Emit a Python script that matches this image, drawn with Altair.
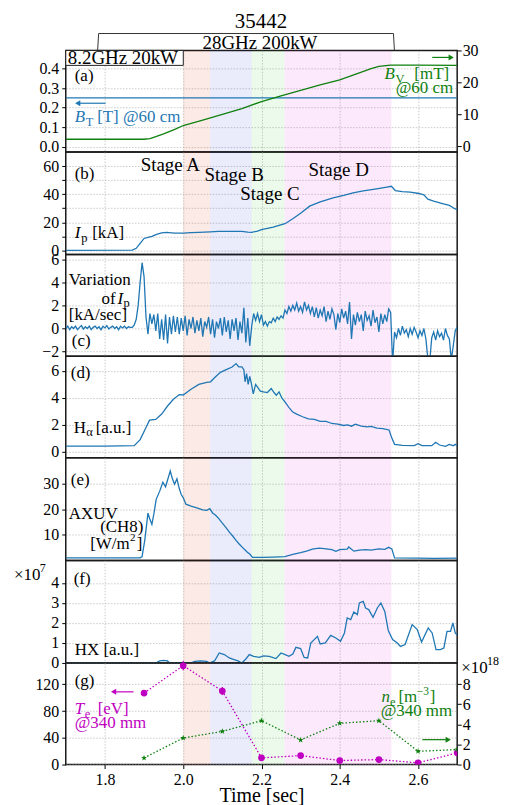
import altair as alt
import pandas as pd

SERIF = "Liberation Serif"
BLUE = "#1f77b4"
GREEN = "#0f800f"
MAG = "#c000c0"
W = 393
HEIGHTS = [102, 103, 102, 102, 103, 103, 102]
X_TICKS = [1.8, 2.0, 2.2, 2.4, 2.6]

# ---- stages ----
stage_name = ["A", "B", "C", "D"]
stage_start = [2.0, 2.069, 2.175, 2.259]
stage_end = [2.069, 2.175, 2.259, 2.532]
stage_color = ["#e12d05", "#2d41e1", "#41cd41", "#e12de1"]

# ---- (a) ----
bt_t = [1.7, 2.7]
bt_v = [0.25, 0.25]
bv_t = [1.70, 1.80, 1.90, 1.915, 1.93, 1.95, 1.98, 2.00, 2.05, 2.10, 2.15, 2.20, 2.25, 2.30,
        2.35, 2.40, 2.45, 2.48, 2.50, 2.53, 2.60, 2.70]
bv_v = [2.2, 2.2, 2.2, 2.4, 3.0, 3.9, 5.4, 6.5, 8.2, 10.0, 11.8, 14.0, 15.8, 17.5,
        19.2, 20.8, 23.0, 24.3, 25.0, 25.4, 25.4, 25.3]

# ---- (b) Ip ----
ip_t = [1.70, 1.87, 1.88, 1.89, 1.90, 1.91, 1.92, 1.932, 1.945, 1.958, 1.97, 1.98, 2.0,
        2.02, 2.04, 2.069, 2.09, 2.12, 2.15, 2.165, 2.175, 2.19, 2.2, 2.23, 2.26, 2.28,
        2.30, 2.323, 2.35, 2.383, 2.41, 2.434, 2.46, 2.494, 2.52, 2.532, 2.542, 2.56,
        2.58, 2.602, 2.615, 2.625, 2.64, 2.66, 2.68, 2.695, 2.70]
ip_v = [0, 0.2, 1.5, 5, 8.5, 9.2, 10, 11.4, 12.5, 12.8, 12.5, 12.3, 12.3,
        12.6, 12.9, 13.2, 13.5, 13.6, 13.5, 13.0, 12.8, 13.8, 14.8, 16.5, 19.0, 22.5,
        26.5, 31.5, 34.5, 37.4, 39.2, 41.0, 42.3, 43.8, 45.0, 45.6, 42.6, 41.8,
        41.5, 40.5, 39.5, 36.5, 35.0, 33.5, 32.0, 29.5, 29.0]

# ---- (c) dIp/dt, sampled every 5 ms from 1.700 s ----
dip_v = ([0.0, 0.2, -0.1, 0.15, 0.0, 0.2, -0.1, 0.1, 0.25, -0.05, 0.15, 0.0, 0.2, -0.1, 0.1,
          0.2, 0.0, 0.15, -0.1, 0.2, 0.05, 0.25, -0.05, 0.1, 0.2, 0.0, 0.15, -0.1, 0.2, 0.05,
          0.2, 0.0, 0.15, 0.1]
         + [0.1, 0.3, 0.8, 2.0, 4.0, 5.7, 4.5, 1.0, -0.5]
         + [1.3, 0.4, 1.2, -0.2, 1.3, -0.9, 0.8, -1.0, 1.2, -1.3, 1.0, -0.5, 1.1, -0.3, 1.0,
            -0.5, 0.9, -0.2, 1.1, -0.6, 0.8, 0.0, 1.0, -0.4, 0.7, -0.2, 0.9, -0.7, 0.6, 0.1,
            1.0, -0.5, 0.8, -0.8, 0.6, 0.0, 0.9, -0.6, 1.0, -0.3, 0.7, -0.9, 0.8, -0.2, 0.9,
            -1.0, 0.6, -0.4, 1.8, -1.2, 0.9, -1.5]
         + [0.2, 1.3, 0.7, 1.3, 0.6, 1.2, 0.3, 0.6, 0.2, 0.6, 0.5, 0.9, 0.6, 1.0, 0.8, 1.1, 0.9]
         + [1.6, 1.3, 1.9, 1.5, 2.0, 1.6, 2.2, 1.5, 1.9, 1.4, 2.3, 1.6, 2.0, 1.3, 1.9]
         + [1.0, 1.8, 0.9, 1.6, 1.1, 1.9, 0.6, 1.5, 0.8, 1.7, 1.2, -0.1, 1.3, 0.5, 1.7,
            0.9, 1.5, 0.4, 2.3, -0.9, 1.2, 0.3, 1.4, 0.6, 1.2, -0.2, 1.5, 0.7, 1.1, 0.2,
            1.6, 0.5, 1.0, -0.3, 1.3, 0.4, 1.2, 0.6, 1.7, 1.4]
         + [-3.0]
         + [-0.3, -0.8, 0.0, -0.6, 0.2, -0.4, -0.1, -0.7, 0.0, -0.5, 0.1, -0.3, -0.8, -0.2,
            -0.6, 0.0, -0.9, -2.6, -2.8, -0.8, -0.3, -1.0, -0.2, -0.7, -0.4, -1.0, 0.0, -0.6,
            -0.9, -2.7, -1.5, -0.2, 0.1])
dip_t = [round(1.7 + 0.005 * i, 3) for i in range(len(dip_v))]

# ---- (d) H-alpha ----
ha_t = [1.70, 1.80, 1.875, 1.89, 1.905, 1.914, 1.93, 1.945, 1.96, 1.975, 1.99, 2.00, 2.02,
        2.04, 2.06, 2.07, 2.08, 2.095, 2.11, 2.125, 2.135, 2.142, 2.15, 2.155, 2.158, 2.162,
        2.166, 2.17, 2.174, 2.179, 2.185, 2.19, 2.197, 2.205, 2.215, 2.225, 2.232, 2.238,
        2.245, 2.252, 2.26, 2.27, 2.28, 2.29, 2.305, 2.32, 2.335, 2.35, 2.365, 2.38, 2.395,
        2.41, 2.42, 2.43, 2.44, 2.455, 2.47, 2.48, 2.495, 2.51, 2.526, 2.532, 2.54, 2.56,
        2.59, 2.60, 2.61, 2.635, 2.645, 2.655, 2.67, 2.68, 2.69, 2.695, 2.70]
ha_v = [0.42, 0.42, 0.45, 0.9, 1.8, 2.35, 2.4, 2.8, 3.4, 3.9, 4.25, 4.22, 4.65,
        5.0, 5.15, 5.2, 5.5, 5.9, 6.1, 6.3, 6.55, 6.3, 6.3, 6.1, 5.2, 5.8,
        5.0, 5.6, 5.1, 4.3, 5.0, 4.8, 4.5, 4.45, 4.4, 4.7, 4.4, 4.2,
        4.45, 4.0, 3.7, 3.3, 2.95, 2.8, 2.6, 2.45, 2.4, 2.25, 2.25, 2.1, 2.05,
        1.95, 2.0, 1.9, 2.05, 1.9, 1.85, 1.88, 1.75, 1.72, 1.62, 1.1, 0.55, 0.48,
        0.45, 0.6, 0.45, 0.45, 0.7, 0.5, 0.4, 0.55, 0.45, 0.55, 0.45]

# ---- (e) AXUV ----
ax_t = [1.70, 1.89, 1.895, 1.902, 1.91, 1.915, 1.92, 1.925, 1.931, 1.94, 1.948, 1.955,
        1.967, 1.972, 1.978, 1.984, 1.99, 1.995, 2.0, 2.007, 2.02, 2.033, 2.05, 2.06,
        2.068, 2.075, 2.083, 2.092, 2.1, 2.109, 2.118, 2.126, 2.135, 2.143, 2.155, 2.164,
        2.17, 2.177, 2.2, 2.23, 2.26, 2.28, 2.3, 2.315, 2.33, 2.347, 2.36, 2.38, 2.39,
        2.40, 2.419, 2.423, 2.43, 2.436, 2.45, 2.466, 2.48, 2.5, 2.515, 2.525, 2.533,
        2.54, 2.6, 2.64, 2.70]
ax_v = [1.0, 1.0, 1.5, 8.0, 18.4, 16.0, 14.0, 18.0, 23.8, 27.0, 30.5, 28.7,
        34.9, 32.0, 29.7, 31.8, 28.0, 25.7, 24.5, 21.9, 21.2, 20.6, 19.7, 19.5,
        20.2, 18.5, 17.6, 16.1, 14.5, 12.9, 11.0, 9.6, 7.8, 6.4, 4.5, 3.2,
        2.5, 1.2, 1.2, 1.3, 1.5, 2.3, 3.0, 3.6, 4.4, 4.8, 4.6, 4.2, 3.5,
        4.2, 4.4, 5.2, 4.3, 3.6, 4.0, 4.2, 4.0, 4.5, 4.3, 5.1, 4.5,
        1.0, 0.9, 0.8, 0.9]

# ---- (f) HX (x 1e7) ----
hx_t = [1.70, 1.93, 1.94, 1.95, 1.96, 1.965, 2.02, 2.03, 2.045, 2.06, 2.068, 2.08, 2.092,
        2.105, 2.118, 2.13, 2.14, 2.15, 2.16, 2.169, 2.18, 2.194, 2.205, 2.22, 2.237, 2.25,
        2.262, 2.27, 2.28, 2.288, 2.3, 2.309, 2.318, 2.326, 2.343, 2.35, 2.363, 2.377, 2.39,
        2.402, 2.412, 2.419, 2.428, 2.436, 2.445, 2.45, 2.46, 2.466, 2.474, 2.485, 2.496,
        2.505, 2.515, 2.524, 2.535, 2.547, 2.555, 2.567, 2.585, 2.598, 2.609, 2.626, 2.636,
        2.646, 2.657, 2.666, 2.674, 2.683, 2.689, 2.695, 2.70]
hx_v = [0.0, 0.0, 0.1, 0.13, 0.1, 0.0, 0.0, 0.08, 0.1, 0.08, 0.0, 0.1, 0.5,
        0.42, 0.25, 0.17, 0.1, 0.0, 0.2, 0.42, 0.33, 0.28, 0.35, 0.33, 0.22, 0.5,
        0.4, 0.33, 0.45, 0.78, 0.72, 0.28, 0.25, 1.0, 1.33, 0.95, 1.0, 1.38, 1.25,
        1.08, 1.5, 2.25, 2.17, 2.55, 2.42, 3.0, 3.08, 2.75, 2.67, 2.28, 2.75,
        3.0, 2.58, 1.62, 1.17, 1.0, 0.83, 0.92, 1.92, 1.67, 1.05, 1.75, 1.5,
        0.67, 0.67, 0.75, 1.58, 1.58, 2.0, 1.5, 1.4]

# ---- (g) Thomson ----
ts_t = [1.9, 2.0, 2.1, 2.2, 2.3, 2.4, 2.5, 2.6, 2.7]
te_v = [107, 148, 110, 10, 13.4, 6, 7.5, 2.5, 17.5]
te_err = [0, 7, 6, 0, 0, 0, 0, 0, 0]
ne_v = [0.66, 2.64, 3.3, 4.36, 2.45, 4.1, 4.36, 1.32, 1.49]

# ------------------------------------------------------------------
xscale = alt.Scale(domain=[1.7, 2.7], nice=False, zero=False)
one = pd.DataFrame({"k": [0]})
STAR = ("M0,-1L0.235,-0.324L0.951,-0.309L0.38,0.124L0.588,0.809L0,0.4L-0.588,0.809"
        "L-0.38,0.124L-0.951,-0.309L-0.235,-0.324Z")


def xq(field, show=False):
    if show:
        ax = alt.Axis(values=X_TICKS, format=".1f", title="Time [sec]", titleFontSize=20,
                      titlePadding=-2, tickSize=4, labelPadding=3, grid=True)
    else:
        ax = alt.Axis(values=X_TICKS, labels=False, ticks=False, title=None, grid=True)
    return alt.X(f"{field}:Q", scale=xscale, axis=ax)


def yq(field, domain, values, fmt="d", orient="left"):
    return alt.Y(f"{field}:Q", scale=alt.Scale(domain=domain, nice=False, zero=False),
                 axis=alt.Axis(values=values, format=fmt, orient=orient, title=None,
                               tickSize=4, labelPadding=3 if orient == "left" else 1))


def bands(show=False):
    df = pd.DataFrame({"name": stage_name, "start": stage_start, "end": stage_end,
                       "color": stage_color})
    return alt.Chart(df).mark_rect(opacity=0.1).encode(
        x=xq("start", show), x2="end:Q", color=alt.Color("color:N", scale=None))


def series(t, v, domain, values, show=False, color=BLUE, fmt="d", orient="left"):
    df = pd.DataFrame({"t": t, "v": v})
    return alt.Chart(df).mark_line(color=color, strokeWidth=1.3, clip=True).encode(
        x=xq("t", show), y=yq("v", domain, values, fmt, orient))


def txt(s, x, y, size=17, color="black", align="left", style="normal", baseline="middle"):
    return alt.Chart(one).mark_text(text=s, font=SERIF, fontSize=size, color=color,
                                    align=align, baseline=baseline, fontStyle=style).encode(
        x=alt.value(x), y=alt.value(y))


def arrow(x1, x2, y, color):
    sgn = 1 if x2 > x1 else -1
    rule = alt.Chart(one).mark_rule(color=color, strokeWidth=1.2).encode(
        x=alt.value(x1), x2=alt.value(x2 - 4 * sgn), y=alt.value(y))
    tip = alt.Chart(one).mark_point(shape="triangle-right" if sgn > 0 else "triangle-left",
                                    filled=True, color=color, size=36, opacity=1).encode(
        x=alt.value(x2 - 3 * sgn), y=alt.value(y))
    return [rule, tip]


def seg(x1, y1, x2, y2):
    return alt.Chart(one).mark_rule(color="#333", strokeWidth=1).encode(
        x=alt.value(x1), y=alt.value(y1), x2=alt.value(x2), y2=alt.value(y2))


# ---- panel (a) ----
pa = alt.layer(
    bands(),
    series(bt_t, bt_v, [-0.027, 0.493], [0.0, 0.1, 0.2, 0.3, 0.4], fmt=".1f"),
    series(bv_t, bv_v, [-1.8, 30.0], [0, 10, 20, 30], color=GREEN, orient="right"),
    alt.Chart(one).mark_rect(fill="white", stroke="#222", strokeWidth=1).encode(
        x=alt.value(0), x2=alt.value(118), y=alt.value(0), y2=alt.value(15)),
    txt("8.2GHz 20kW", 2, 14, size=19, baseline="alphabetic"),
    txt("35442", 196, -23, size=21, align="center", baseline="alphabetic"),
    seg(33, -17, 329, -17), seg(33, -17, 32, 0), seg(329, -17, 330, 0),
    txt("28GHz 200kW", 195, -1, size=19, align="center", baseline="alphabetic"),
    txt("(a)", 9, 26),
    *arrow(40, 9, 53, BLUE),
    txt("B", 9, 72, color=BLUE, style="italic", baseline="alphabetic"),
    txt("T", 20, 76, size=12.5, color=BLUE, baseline="alphabetic"),
    txt("[T] @60 cm", 31.5, 72, color=BLUE, baseline="alphabetic"),
    *arrow(368, 390, 7, GREEN),
    txt("B", 320, 29, color=GREEN, style="italic", baseline="alphabetic"),
    txt("V", 331, 33, size=12.5, color=GREEN, baseline="alphabetic"),
    txt("[mT]", 350, 29, color=GREEN, baseline="alphabetic"),
    txt("@60 cm", 389, 43, color=GREEN, align="right", baseline="alphabetic"),
).resolve_scale(y="independent").properties(width=W, height=HEIGHTS[0])

# ---- panel (b) ----
pb = alt.layer(
    bands(),
    series(ip_t, ip_v, [-3, 70], [0, 10, 20, 30, 40, 50, 60]),
    txt("(b)", 9, 22),
    txt("Stage A", 105, 13, size=19, align="center"),
    txt("Stage B", 169, 23, size=19, align="center"),
    txt("Stage C", 205, 42, size=19, align="center"),
    txt("Stage D", 274, 18, size=19, align="center"),
    txt("I", 9, 86, style="italic", baseline="alphabetic"),
    txt("p", 15.5, 90, size=12.5, baseline="alphabetic"),
    txt("[kA]", 26.5, 86, baseline="alphabetic"),
).properties(width=W, height=HEIGHTS[1])

# ---- panel (c) ----
pc = alt.layer(
    bands(),
    series(dip_t, dip_v, [-2.4, 6.4], [-2, 0, 2, 4, 6]),
    txt("Variation", 3, 25),
    txt("of", 36, 45),
    txt("I", 52, 45, style="italic"),
    txt("p", 58, 49, size=12.5),
    txt("[kA/sec]", 3, 61),
    txt("(c)", 6, 87),
).properties(width=W, height=HEIGHTS[2])

# ---- panel (d) ----
pd_ = alt.layer(
    bands(),
    series(ha_t, ha_v, [-0.45, 7.1], [0, 2, 4, 6]),
    txt("(d)", 5, 17),
    txt("H", 8, 72),
    txt("α", 20.5, 76, size=12.5),
    txt("[a.u.]", 30, 72),
).properties(width=W, height=HEIGHTS[3])

# ---- panel (e) ----
pe = alt.layer(
    bands(),
    series(ax_t, ax_v, [0, 40], [10, 20, 30]),
    txt("(e)", 5, 22),
    txt("AXUV", 3, 56),
    txt("(CH8)", 78, 70, align="right"),
    txt("[W/m", 24.5, 87),
    txt("2", 64.5, 81, size=11),
    txt("]", 77, 87, align="right"),
).properties(width=W, height=HEIGHTS[4])

# ---- panel (f) ----
pf = alt.layer(
    bands(),
    series(hx_t, hx_v, [0, 5.13], [0, 1, 2, 3, 4]),
    txt("(f)", 8, 19),
    txt("HX [a.u.]", 9, 90),
    txt("×10", -52, 15),
    txt("7", -26, 8, size=12),
).properties(width=W, height=HEIGHTS[5])

# ---- panel (g) ----
ts_df = pd.DataFrame({"t": ts_t, "te": te_v, "err": te_err, "ne": ne_v})
ts_df["lo"] = ts_df["te"] - ts_df["err"]
ts_df["hi"] = ts_df["te"] + ts_df["err"]
te_y = yq("te", [0, 152], [0, 40, 80, 120])
te_group = alt.layer(
    alt.Chart(ts_df).mark_line(color=MAG, strokeWidth=1.3, strokeDash=[1.5, 2], clip=True)
    .encode(x=xq("t", True), y=te_y),
    alt.Chart(ts_df[ts_df["err"] > 0]).mark_rule(color=MAG, strokeWidth=1.3)
    .encode(x=xq("t", True), y=alt.Y("lo:Q", scale=alt.Scale(domain=[0, 152], nice=False, zero=False), axis=alt.Axis(values=[0, 40, 80, 120], format="d", title=None, tickSize=4, labelPadding=3)), y2="hi:Q"),
    alt.Chart(ts_df).mark_point(shape="circle", filled=True, color=MAG, size=45, opacity=1, clip=True)
    .encode(x=xq("t", True), y=te_y),
)
ne_y = yq("ne", [0, 10.1], [0, 2, 4, 6, 8], orient="right")
ne_group = alt.layer(
    alt.Chart(ts_df).mark_line(color=GREEN, strokeWidth=1.3, strokeDash=[1.5, 2], clip=True)
    .encode(x=xq("t", True), y=ne_y),
    alt.Chart(ts_df).mark_point(shape=STAR, filled=True, color=GREEN, size=40, opacity=1, clip=True)
    .encode(x=xq("t", True), y=ne_y),
)
pg = alt.layer(
    bands(True),
    te_group,
    ne_group,
    txt("(g)", 9, 18),
    *arrow(68, 45, 29, MAG),
    txt("T", 9, 51, color=MAG, style="italic", baseline="alphabetic"),
    txt("e", 19, 55, size=12.5, color=MAG, baseline="alphabetic"),
    txt("[eV]", 32, 51, color=MAG, baseline="alphabetic"),
    txt("@340 mm", 9, 65, color=MAG, baseline="alphabetic"),
    txt("n", 317, 39, color=GREEN, style="italic", baseline="alphabetic"),
    txt("e", 325.5, 43, size=12.5, color=GREEN, baseline="alphabetic"),
    txt("[m", 334, 39, color=GREEN, baseline="alphabetic"),
    txt("−3", 352.5, 32, size=11.5, color=GREEN, baseline="alphabetic"),
    txt("]", 365.5, 39, color=GREEN, baseline="alphabetic"),
    txt("@340 mm", 388, 53, color=GREEN, align="right", baseline="alphabetic"),
    *arrow(358, 387, 77, GREEN),
    txt("×10", 397, 5),
    txt("18", 423, -2, size=12),
).resolve_scale(y="independent").properties(width=W, height=HEIGHTS[6])

chart = alt.vconcat(pa, pb, pc, pd_, pe, pf, pg, spacing=0, bounds="flush").properties(
    padding={"left": 5, "right": 2, "top": 0, "bottom": 0}
).configure_view(stroke="#1a1a1a", strokeWidth=1.5).configure_axis(
    labelFont=SERIF, labelFontSize=16, labelColor="black", tickColor="black",
    domain=False, gridColor="#bdbdbd", gridDash=[1.5, 1.5], gridWidth=0.8,
    titleFont=SERIF, titleFontWeight="normal", titleColor="black"
)

chart.save("out.html", embed_options={"renderer": "svg", "actions": False})
